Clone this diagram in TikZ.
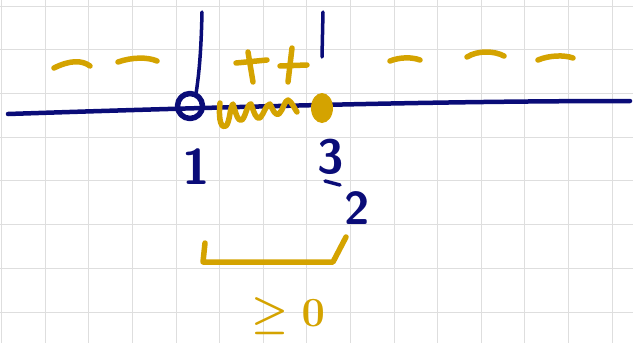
\documentclass[tikz,border=0pt]{standalone}
\usepackage{amsmath}
\definecolor{inknavy}{RGB}{10,12,120}
\definecolor{inkgold}{RGB}{212,163,0}

\begin{document}
\begin{tikzpicture}[
  x=1pt, y=-1pt, line cap=round, line join=round,
  navy/.style={draw=inknavy, line width=4.5pt},
  gold/.style={draw=inkgold, line width=5.5pt},
  sq/.style={draw=black!13, line width=0.8pt},
  num/.style={text=inknavy, font=\fontsize{50}{50}\selectfont\sffamily\bfseries, inner sep=0pt},
  cond/.style={text=inkgold, font=\fontsize{22}{22}\selectfont\boldmath, scale=2, inner sep=0pt}]

  \useasboundingbox (0,0) rectangle (633,343);

  % --- squared paper ---
  \foreach \gx in {0,...,14} \draw[sq] (1.5+43.6*\gx,0) -- (1.5+43.6*\gx,343);
  \foreach \gy in {0,...,7} \draw[sq] (0,6+43.7*\gy) -- (633,6+43.7*\gy);

  % --- number line with the two marks ---
  \draw[navy] (8,114) .. controls (250,106) and (450,101) .. (630,101);
  \draw[navy, line width=3.5pt] (202,12) .. controls (201,60) and (198,80) .. (196,94);
  \draw[navy, line width=5.5pt] (190,106) circle [radius=12.5];
  \draw[navy, line width=3.5pt] (323,12) -- (322,57);
  \fill[inkgold] (322,108) ellipse [x radius=11, y radius=15];

  % --- signs above the line ---
  \draw[gold] (54,68) .. controls (70,60) and (82,60) .. (90,66);
  \draw[gold] (118,62) .. controls (132,57) and (148,57) .. (157,61);
  \draw[gold] (236,63) -- (267,60);  \draw[gold] (248,52) -- (253,82);
  \draw[gold] (280,66) -- (307,65);  \draw[gold] (292,48) -- (288,82);
  \draw[gold] (390,61) .. controls (400,57) and (412,57) .. (420,60);
  \draw[gold] (467,57) .. controls (478,50) and (495,51) .. (504,56);
  \draw[gold] (538,60) .. controls (550,55) and (565,55) .. (573,58);

  % --- shaded part between 1 and 3/2 ---
  \draw[gold] (220,103) .. controls (218,122) and (222,129) .. (226,126)
              .. controls (230,122) and (230,106) .. (233,104)
              .. controls (236,114) and (238,122) .. (242,120)
              .. controls (246,116) and (247,104) .. (251,104)
              .. controls (254,112) and (256,120) .. (260,118)
              .. controls (264,114) and (266,104) .. (270,104)
              .. controls (273,110) and (275,116) .. (279,114)
              .. controls (283,110) and (285,100) .. (288,100)
              .. controls (292,102) and (294,108) .. (297,112);

  % --- values under the line ---
  \node[num] (one) at (196,167) {1};
  \node[num, font=\fontsize{48}{48}\selectfont\sffamily\bfseries] (three) at (331,157) {3};
  \draw[navy, line width=3.5pt] (325,181) -- (340,185);
  \node[num, font=\fontsize{46}{46}\selectfont\sffamily\bfseries] (two) at (357,208) {2};

  % --- solution interval ---
  \draw[gold] (205,243) -- (203,262) -- (333,262) -- (346,237);
  \node[cond] (geq) at (288,316) {$\geq 0$};
\end{tikzpicture}
\end{document}
